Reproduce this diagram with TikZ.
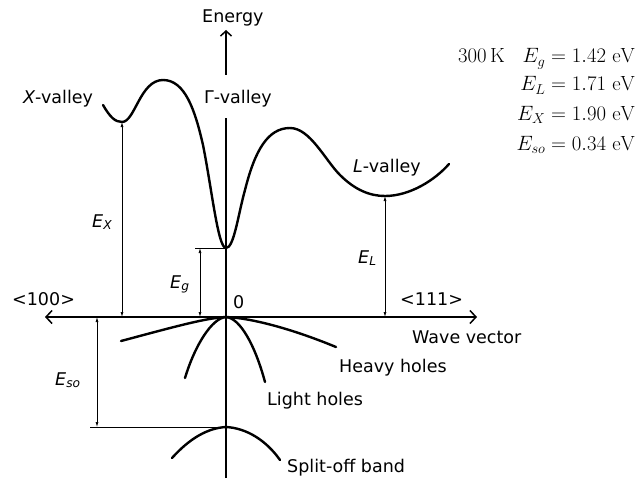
\documentclass[tikz,border=0pt]{standalone}
\usepackage{fontspec}
\newfontfamily\lblfont{DejaVu Sans}
\usetikzlibrary{arrows.meta}
\newcommand{\Elbl}[1]{{\itshape E}\textsubscript{\itshape #1}}

\begin{document}
\begin{tikzpicture}[x=1pt, y=-1pt,
    lbl/.style={font=\lblfont\fontsize{17.5}{20}\selectfont, inner sep=0pt, anchor=base west},
    val/.style={font=\fontsize{20.5}{24}\selectfont, inner sep=0pt, anchor=base east},
    axis/.style={line width=1.5pt},
    band/.style={line width=2.4pt, line cap=round},
    dim/.style={line width=0.7pt, {Latex[length=5pt,width=3pt]}-{Latex[length=5pt,width=3pt]}},
    refline/.style={line width=0.7pt}]
  \useasboundingbox (0,0) rectangle (636,484);

  % key points
  \coordinate (O) at (226,317);
  \coordinate (k100) at (45,317);
  \coordinate (k111) at (477,317);
  \coordinate (bot) at (226,478);
  \coordinate (gapBot) at (226,118);
  \coordinate (gapTop) at (226,75);
  \coordinate (Xmin) at (122,122);
  \coordinate (Gmin) at (226,248);
  \coordinate (Lmin) at (385,196);
  \coordinate (SOtop) at (226,427);

  % axes
  \node[lbl] (energy) at (202,23) {Energy};
  \draw[axis] (bot) -- (gapBot);
  \draw[axis, -{Straight Barb[length=5pt,width=11pt]}] (gapTop) -- (226,30);
  \draw[axis, {Straight Barb[length=6pt,width=13pt]}-{Straight Barb[length=6pt,width=13pt]}] (k100) -- (k111);

  % conduction band
  \draw[band] (103,105) .. controls (110,117) and (115,122) .. (Xmin)
    .. controls (135,122) and (140,80) .. (163,80)
    .. controls (185,80) and (195,110) .. (203,145)
    .. controls (212,190) and (218,248) .. (Gmin)
    .. controls (234,248) and (238,215) .. (245,190)
    .. controls (255,150) and (268,128) .. (290,128)
    .. controls (310,128) and (325,160) .. (340,175)
    .. controls (355,190) and (370,196) .. (Lmin)
    .. controls (410,196) and (435,180) .. (449,164);

  % valence bands
  \draw[band] (121,341) .. controls (170,328) and (205,318) .. (O)
    .. controls (250,318) and (290,328) .. (336,347);
  \draw[band] (185,378) .. controls (195,345) and (212,318) .. (O)
    .. controls (240,318) and (255,345) .. (265,382);
  \draw[band] (172,458) .. controls (190,438) and (208,428) .. (SOtop)
    .. controls (246,428) and (266,440) .. (280,460);

  % energy gaps
  \draw[dim] (Xmin) -- (Xmin |- O);
  \draw[dim] (Lmin) -- (Lmin |- O);
  \draw[refline] (195,248) -- (Gmin);
  \draw[dim] (200,248) -- (200,317);
  \draw[refline] (90,427) -- (SOtop);
  \draw[dim] (97,317) -- (97,427);

  % labels
  \node[lbl] (xval) at (23,103) {{\itshape X}-valley};
  \node[lbl, fill=white] (gval) at (204,103) {Γ-valley};
  \node[lbl] (lval) at (353,172) {{\itshape L}-valley};
  \node[lbl] (ex) at (92,227) {\Elbl{X}};
  \node[lbl] (eg) at (170,288) {\Elbl{g}};
  \node[lbl] (el) at (358,263) {\Elbl{L}};
  \node[lbl] (eso) at (55,385) {\Elbl{so}};
  \node[lbl] (d100) at (12,305) {<100>};
  \node[lbl] (zero) at (233,308) {0};
  \node[lbl] (d111) at (400,305) {<111>};
  \node[lbl] (wave) at (412,343) {Wave vector};
  \node[lbl] (heavy) at (339,372) {Heavy holes};
  \node[lbl] (light) at (267,405) {Light holes};
  \node[lbl] (split) at (287,472) {Split-off band};

  % values at 300 K
  \node[val, anchor=base west] (temp) at (458,63) {$300\,\mathrm{K}$};
  \node[val] (vg) at (635,63) {$E_g = 1.42\ \mathrm{eV}$};
  \node[val] (vl) at (635,91) {$E_L = 1.71\ \mathrm{eV}$};
  \node[val] (vx) at (635,120) {$E_X = 1.90\ \mathrm{eV}$};
  \node[val] (vso) at (635,150) {$E_{so} = 0.34\ \mathrm{eV}$};
\end{tikzpicture}
\end{document}
